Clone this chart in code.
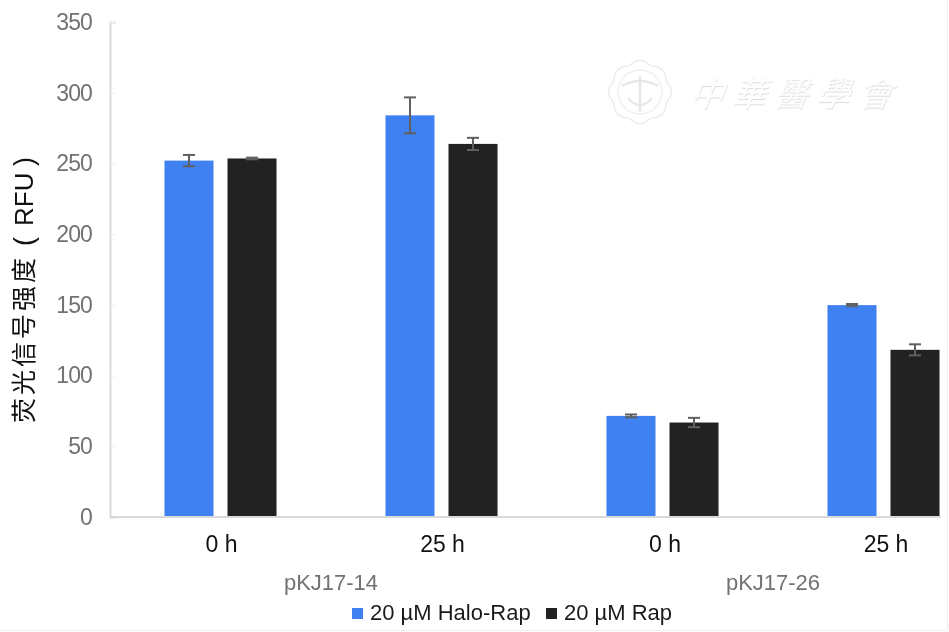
<!DOCTYPE html>
<html>
<head>
<meta charset="utf-8">
<script src="https://cdn.jsdelivr.net/npm/d3@7"></script>
<style>
html, body { margin: 0; padding: 0; background: #fff; }
svg { display: block; font-family: "Liberation Sans", Arial, sans-serif; filter: blur(0.45px); }
.yAxis text { font-size: 23px; letter-spacing: -0.9px; fill: #727272; }
.xAxis text { font-size: 23px; fill: #111; }
.groupText { font-size: 22px; fill: #727272; }
.legendText { font-size: 22px; fill: #1a1a1a; }
.watermark { font-family: "Noto Sans CJK SC", sans-serif; font-size: 34px; fill: #fefefe; text-shadow: 1px 1px 1px #dcdcdc; }
</style>
</head>
<body>
<div id="chart"></div>
<script>
// Chart data
var groups = ["pKJ17-14", "pKJ17-26"];
var times = ["0 h", "25 h", "0 h", "25 h"];
var seriesNames = ["20 µM Halo-Rap", "20 µM Rap"];
var seriesColors = ["#4081f2", "#222222"];
var haloValues = [252, 284, 71.5, 149.8];
var rapValues = [253.5, 263.8, 66.8, 118.2];
var haloErrors = [4, 12.7, 1, 0.8];
var rapErrors = [0.6, 4.3, 3.3, 3.9];
var yTicks = [0, 50, 100, 150, 200, 250, 300, 350];

var width = 949;
var height = 632;
var axisX = 110;
var baseY = 517;
var topY = 22;

var svg = d3
.select("#chart")
.append("svg")
.attr("width", width)
.attr("height", height);

// Scales. The plot runs past the right edge of the picture, so the band
// range is wider than the window, the last bar still lands inside.
var xIndex = d3.range(times.length);

var xScale = d3
.scaleBand()
.domain(xIndex)
.range([axisX, axisX + 221 * 4])
.paddingInner(0.493)
.paddingOuter(0.2465);

var xInner = d3
.scaleBand()
.domain([0, 1])
.range([0, xScale.bandwidth()])
.paddingInner(0.222);

var yScale = d3
.scaleLinear()
.domain([0, 350])
.range([baseY, topY]);

// Watermark
var mark = svg.append("g").attr("class", "mark");

var petals = d3
.lineRadial()
.curve(d3.curveBasisClosed)
.angle(function(d) { return d * Math.PI / 40; })
.radius(function(d) { return 28 + 3.5 * Math.abs(Math.cos(d * Math.PI / 10)); });

mark
.append("path")
.attr("transform", "translate(640,92)")
.attr("d", petals(d3.range(80)))
.attr("fill", "none")
.attr("stroke", "#ebebeb")
.attr("stroke-width", 1.5);

mark
.append("circle")
.attr("cx", 640)
.attr("cy", 92)
.attr("r", 22)
.attr("fill", "none")
.attr("stroke", "#f0f0f0")
.attr("stroke-width", 1.5);

mark
.append("path")
.attr("d", "M622 86 Q640 76 658 86 M640 76 L640 112 M628 98 Q640 112 652 98")
.attr("fill", "none")
.attr("stroke", "#e8e8e8")
.attr("stroke-width", 2.5);

mark
.selectAll("text")
.data(["中", "華", "醫", "學", "會"])
.enter()
.append("text")
.attr("class", "watermark")
.attr("text-anchor", "middle")
.attr("transform", function(d, i) {
    return "translate(" + (706 + i * 42) + ",106) skewX(-20)";
})
.text(function(d) { return d; });

// Y axis
var yAxis = d3
.axisLeft(yScale)
.tickValues(yTicks)
.tickSize(-6)
.tickPadding(18);

var yGroup = svg
.append("g")
.attr("class", "yAxis")
.attr("transform", "translate(" + axisX + ",0)")
.call(yAxis);

yGroup.select(".domain").attr("stroke", "#d9d9d9").attr("stroke-width", 2);
yGroup.selectAll(".tick line").attr("stroke", "#f0f0f0");

// Bars
var allValues = [haloValues, rapValues];
var allErrors = [haloErrors, rapErrors];

allValues.forEach(function(values, s) {
    var barX = function(d, i) { return xScale(i) + xInner(s); };
    var midX = function(d, i) { return barX(d, i) + xInner.bandwidth() / 2; };

    svg
    .append("g")
    .selectAll("rect")
    .data(values)
    .enter()
    .append("rect")
    .attr("x", barX)
    .attr("y", function(d) { return yScale(d); })
    .attr("width", xInner.bandwidth())
    .attr("height", function(d) { return baseY - yScale(d); })
    .attr("fill", seriesColors[s]);

    // Error bars
    var errs = svg.append("g").attr("stroke", "#606060").attr("stroke-width", 2);
    var errors = allErrors[s];

    errs
    .selectAll("line.stem")
    .data(values)
    .enter()
    .append("line")
    .attr("class", "stem")
    .attr("x1", midX)
    .attr("x2", midX)
    .attr("y1", function(d, i) { return yScale(d + errors[i]); })
    .attr("y2", function(d, i) { return yScale(d - errors[i]); });

    [1, -1].forEach(function(sign) {
        errs
        .selectAll("line.cap" + sign)
        .data(values)
        .enter()
        .append("line")
        .attr("class", "cap" + sign)
        .attr("x1", function(d, i) { return midX(d, i) - 6; })
        .attr("x2", function(d, i) { return midX(d, i) + 6; })
        .attr("y1", function(d, i) { return yScale(d + sign * errors[i]); })
        .attr("y2", function(d, i) { return yScale(d + sign * errors[i]); });
    });
});

// X axis
var xAxis = d3
.axisBottom(xScale)
.tickSize(0)
.tickPadding(19)
.tickFormat(function(d) { return times[d]; });

var xGroup = svg
.append("g")
.attr("class", "xAxis")
.attr("transform", "translate(0," + baseY + ")")
.call(xAxis);

xGroup.select(".domain").remove();

// The two right hand labels sit a little off their bars in the original
xGroup
.selectAll(".tick text")
.attr("dx", function(d) { return d > 1 ? 2.5 : 1; });

xGroup
.append("line")
.attr("x1", axisX)
.attr("x2", 941)
.attr("stroke", "#d9d9d9")
.attr("stroke-width", 2);

// Group labels sit under the middle of their two time points
svg
.append("g")
.selectAll("text")
.data(groups)
.enter()
.append("text")
.attr("class", "groupText")
.attr("text-anchor", "middle")
.attr("x", function(d, i) {
    return (xScale(i * 2) + xScale(i * 2 + 1) + xScale.bandwidth()) / 2;
})
.attr("y", 590)
.text(function(d) { return d; });

// Y title, built from pieces because the original spaces them unevenly
var yTitle = svg
.append("text")
.attr("transform", "translate(33,423) rotate(-90)")
.attr("fill", "#111");

yTitle
.append("tspan")
.attr("x", 0)
.attr("font-family", "'Noto Sans CJK SC', sans-serif")
.attr("font-size", 25)
.attr("letter-spacing", 3)
.text("荧光信号强度");

yTitle.append("tspan").attr("x", 177).attr("font-size", 27).attr("font-weight", 300).text("(");
yTitle.append("tspan").attr("x", 197).attr("font-size", 26).text("RFU");
yTitle.append("tspan").attr("x", 257).attr("font-size", 27).text(")");

// Legend
var legendX = [352, 546];
var legend = svg
.selectAll("g.legend")
.data(seriesNames)
.enter()
.append("g")
.attr("class", "legend")
.attr("transform", function(d, i) { return "translate(" + legendX[i] + ",608)"; });

legend
.append("rect")
.attr("width", 11)
.attr("height", 11)
.attr("fill", function(d, i) { return seriesColors[i]; });

legend
.append("text")
.attr("class", "legendText")
.attr("x", 18)
.attr("y", 12)
.text(function(d) { return d; });

// Faint frame along the bottom and right edge of the picture
svg
.append("path")
.attr("d", "M0 630.5 H947.5 V0")
.attr("fill", "none")
.attr("stroke", "#eeeeee");
</script>
</body>
</html>
